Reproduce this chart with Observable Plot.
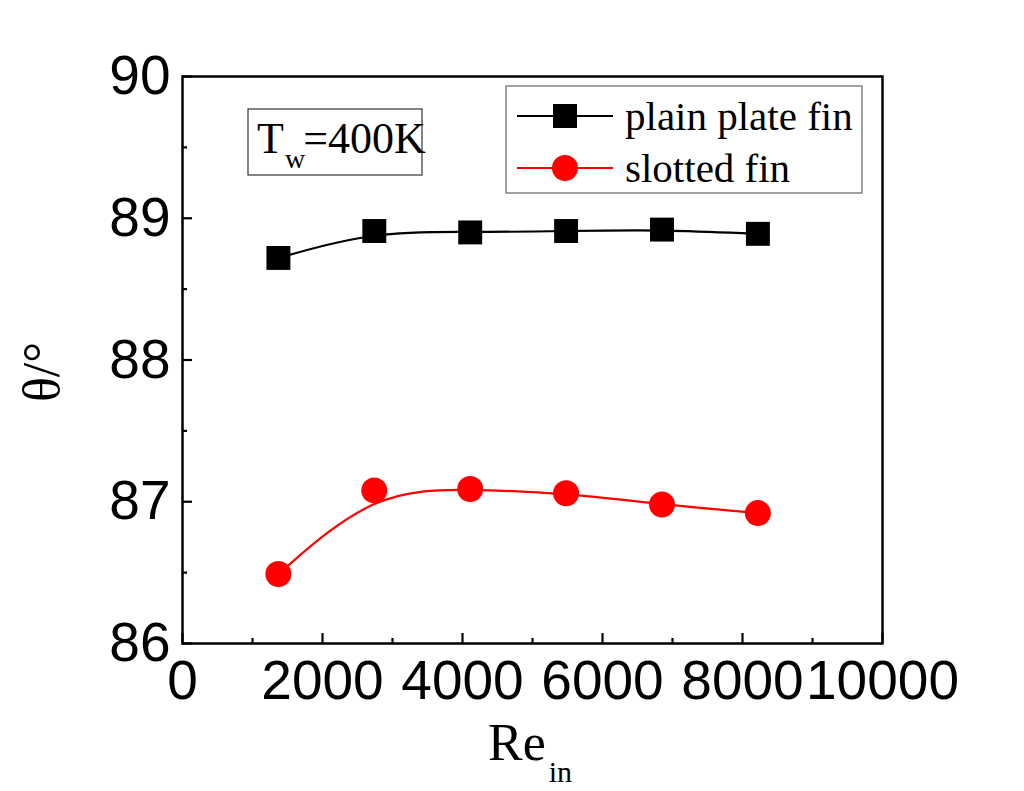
<!DOCTYPE html>
<html><head><meta charset="utf-8">
<script src="https://cdn.jsdelivr.net/npm/d3@7"></script>
<script src="https://cdn.jsdelivr.net/npm/@observablehq/plot@0.6"></script>
<style>body{margin:0;background:#fff} svg{display:block}</style>
</head><body><div id="chart"></div>
<script>
const re = [1370, 2740, 4110, 5480, 6850, 8220];
const plainTheta = [88.72, 88.91, 88.90, 88.91, 88.92, 88.89];
const slottedTheta = [86.49, 87.08, 87.09, 87.06, 86.98, 86.92];
const xMajorTicks = [0, 2000, 4000, 6000, 8000, 10000];
const xMinorTicks = [1000, 3000, 5000, 7000, 9000];
const yMajorTicks = [86, 87, 88, 89, 90];
const yMinorTicks = [86.5, 87.5, 88.5, 89.5];
const seriesNames = ["plain plate fin", "slotted fin"];
const seriesColors = ["#000000", "#ff0000"];
const annotationMain = "=400K";

const plain = re.map((x, i) => ({x, y: plainTheta[i]}));
const slotted = re.map((x, i) => ({x, y: slottedTheta[i]}));

const W = 1024, H = 791, mL = 182, mR = 142, mT = 76, mB = 148;
const xDom = [0, 10000], yDom = [86, 90];
const perPxX = (xDom[1] - xDom[0]) / (W - mL - mR);
const perPxY = (yDom[1] - yDom[0]) / (H - mT - mB);
const major = 10, minor = 5;

const plot = Plot.plot({
  width: W, height: H,
  marginLeft: mL, marginRight: mR, marginTop: mT, marginBottom: mB,
  x: {domain: xDom, ticks: xMajorTicks, tickSize: 0, tickPadding: 16, tickFormat: d => String(d), label: null},
  y: {domain: yDom, ticks: yMajorTicks, tickSize: 0, tickPadding: 12, tickFormat: d => String(d), label: null},
  style: {fontFamily: "'Liberation Sans', Arial, sans-serif", fontSize: "55px", color: "black", background: "white", overflow: "visible"},
  marks: [
    Plot.ruleX(xMajorTicks, {x: d => d, y1: yDom[0], y2: yDom[0] + major * perPxY, stroke: "black", strokeWidth: 2.2}),
    Plot.ruleX(xMinorTicks, {x: d => d, y1: yDom[0], y2: yDom[0] + minor * perPxY, stroke: "black", strokeWidth: 2.2}),
    Plot.ruleY(yMajorTicks, {y: d => d, x1: xDom[0], x2: xDom[0] + major * perPxX, stroke: "black", strokeWidth: 2.2}),
    Plot.ruleY(yMinorTicks, {y: d => d, x1: xDom[0], x2: xDom[0] + minor * perPxX, stroke: "black", strokeWidth: 2.2}),
    Plot.frame({stroke: "black", strokeWidth: 2.5}),
    Plot.line(plain, {x: "x", y: "y", curve: "basis", stroke: seriesColors[0], strokeWidth: 2.2}),
    Plot.line(slotted, {x: "x", y: "y", curve: "basis", stroke: seriesColors[1], strokeWidth: 2.2}),
    Plot.dot(plain, {x: "x", y: "y", symbol: "square", r: 13.5, fill: seriesColors[0], stroke: "none"}),
    Plot.dot(slotted, {x: "x", y: "y", symbol: "circle", r: 13, fill: seriesColors[1], stroke: "none"})
  ]
});

const svg = d3.select(plot);
const serif = "'Liberation Serif', 'Times New Roman', serif";

// y-axis title
svg.append("text")
  .attr("transform", "translate(59,372) rotate(-90)")
  .attr("text-anchor", "middle")
  .attr("font-family", serif).attr("font-size", 52).attr("fill", "black")
  .text("θ/°");

// x-axis title
const xt = svg.append("text")
  .attr("x", 488).attr("y", 760).attr("text-anchor", "start")
  .attr("font-family", serif).attr("font-size", 52).attr("fill", "black");
xt.append("tspan").text("Re");
xt.append("tspan").attr("font-size", 30).attr("dy", 22).attr("dx", 3).text("in");

// annotation box
svg.append("rect").attr("x", 248).attr("y", 109).attr("width", 174).attr("height", 66)
  .attr("fill", "white").attr("stroke", "#333").attr("stroke-width", 1.2);
const at = svg.append("text").attr("x", 257).attr("y", 153).attr("text-anchor", "start")
  .attr("font-family", serif).attr("font-size", 44).attr("fill", "black");
at.append("tspan").text("T");
at.append("tspan").attr("font-size", 28).attr("dy", 15).attr("dx", 1).text("w");
at.append("tspan").attr("dy", -15).attr("dx", -2).text(annotationMain);

// legend
svg.append("rect").attr("x", 506).attr("y", 86).attr("width", 356).attr("height", 107)
  .attr("fill", "white").attr("stroke", "#666").attr("stroke-width", 1.2);
const rows = [116, 168];
rows.forEach((ry, i) => {
  svg.append("line").attr("x1", 517).attr("x2", 613).attr("y1", ry).attr("y2", ry)
    .attr("stroke", seriesColors[i]).attr("stroke-width", 2.2);
  if (i === 0) {
    svg.append("rect").attr("x", 565 - 12).attr("y", ry - 12).attr("width", 24).attr("height", 24).attr("fill", seriesColors[i]);
  } else {
    svg.append("circle").attr("cx", 565).attr("cy", ry).attr("r", 13).attr("fill", seriesColors[i]);
  }
  svg.append("text").attr("x", 625).attr("y", ry + 14).attr("text-anchor", "start")
    .attr("font-family", serif).attr("font-size", 41).attr("fill", "black")
    .text(seriesNames[i]);
});

document.getElementById("chart").appendChild(plot);
</script>
</body></html>
